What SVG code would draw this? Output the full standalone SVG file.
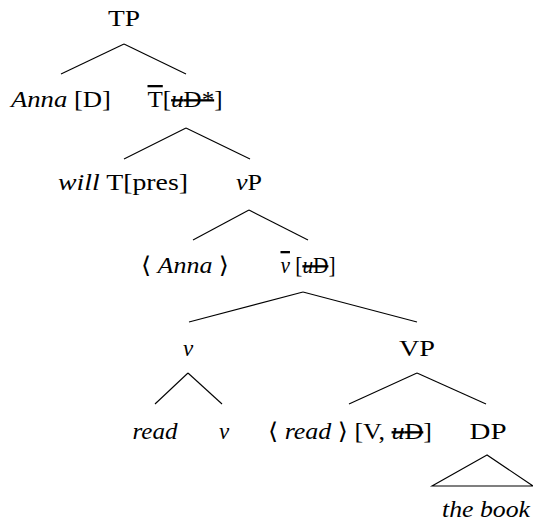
<svg xmlns="http://www.w3.org/2000/svg" width="533" height="525" viewBox="0 0 533 525">
<style>
text{font-family:'Liberation Serif','Times New Roman','DejaVu Serif',serif;font-size:23px;fill:#000;text-anchor:middle}
.i{font-style:italic}
.s{text-decoration:line-through}
.o{text-decoration:overline}
#edges line,#edges polygon{stroke:#000;stroke-width:1.1;fill:none}
</style>
<rect width="533" height="525" fill="#fff"/>
<g id="edges">
<line x1="124" y1="44" x2="61" y2="74"/>
<line x1="124" y1="44" x2="186" y2="74"/>
<line x1="186" y1="128" x2="124" y2="159"/>
<line x1="186" y1="128" x2="250" y2="159"/>
<line x1="249" y1="210" x2="193" y2="240"/>
<line x1="249" y1="210" x2="308" y2="240"/>
<line x1="303" y1="292" x2="189" y2="322"/>
<line x1="303" y1="292" x2="417" y2="322"/>
<line x1="188" y1="373" x2="155" y2="404"/>
<line x1="188" y1="373" x2="222" y2="404"/>
<line x1="417" y1="373" x2="349" y2="404"/>
<line x1="417" y1="373" x2="486" y2="404"/>
<polygon points="487,455 432,486 533,486"/>
</g>
<g id="n-TP"><text x="124" y="26" textLength="32" lengthAdjust="spacingAndGlyphs">TP</text></g>
<g id="n-Anna"><text x="61" y="107" textLength="100" lengthAdjust="spacingAndGlyphs"><tspan class="i">Anna</tspan> [D]</text></g>
<g id="n-Tbar"><text x="185" y="107" textLength="75" lengthAdjust="spacingAndGlyphs"><tspan class="o">T</tspan>[<tspan class="s"><tspan class="i">u</tspan>D*</tspan>]</text></g>
<g id="n-will"><text x="123" y="190" textLength="130" lengthAdjust="spacingAndGlyphs"><tspan class="i">will</tspan> T[pres]</text></g>
<g id="n-vP"><text x="249" y="190" textLength="26" lengthAdjust="spacingAndGlyphs"><tspan class="i">v</tspan>P</text></g>
<g id="n-Anna2"><text x="185" y="273" textLength="88" lengthAdjust="spacingAndGlyphs">⟨ <tspan class="i">Anna</tspan> ⟩</text></g>
<g id="n-vbar"><text x="308" y="273" textLength="55" lengthAdjust="spacingAndGlyphs"><tspan class="i o">v</tspan> [<tspan class="s"><tspan class="i">u</tspan>D</tspan>]</text></g>
<g id="n-v"><text x="188" y="356" class="i">v</text></g>
<g id="n-VP"><text x="417" y="356" textLength="36" lengthAdjust="spacingAndGlyphs">VP</text></g>
<g id="n-read"><text x="155" y="439" class="i" textLength="45" lengthAdjust="spacingAndGlyphs">read</text></g>
<g id="n-v2"><text x="224" y="439" class="i">v</text></g>
<g id="n-readV"><text x="350" y="439" textLength="164" lengthAdjust="spacingAndGlyphs">⟨ <tspan class="i">read</tspan> ⟩ [V, <tspan class="s"><tspan class="i">u</tspan>D</tspan>]</text></g>
<g id="n-DP"><text x="488" y="439" textLength="37" lengthAdjust="spacingAndGlyphs">DP</text></g>
<g id="n-book"><text x="486" y="517" class="i" textLength="88" lengthAdjust="spacingAndGlyphs">the book</text></g>
</svg>
